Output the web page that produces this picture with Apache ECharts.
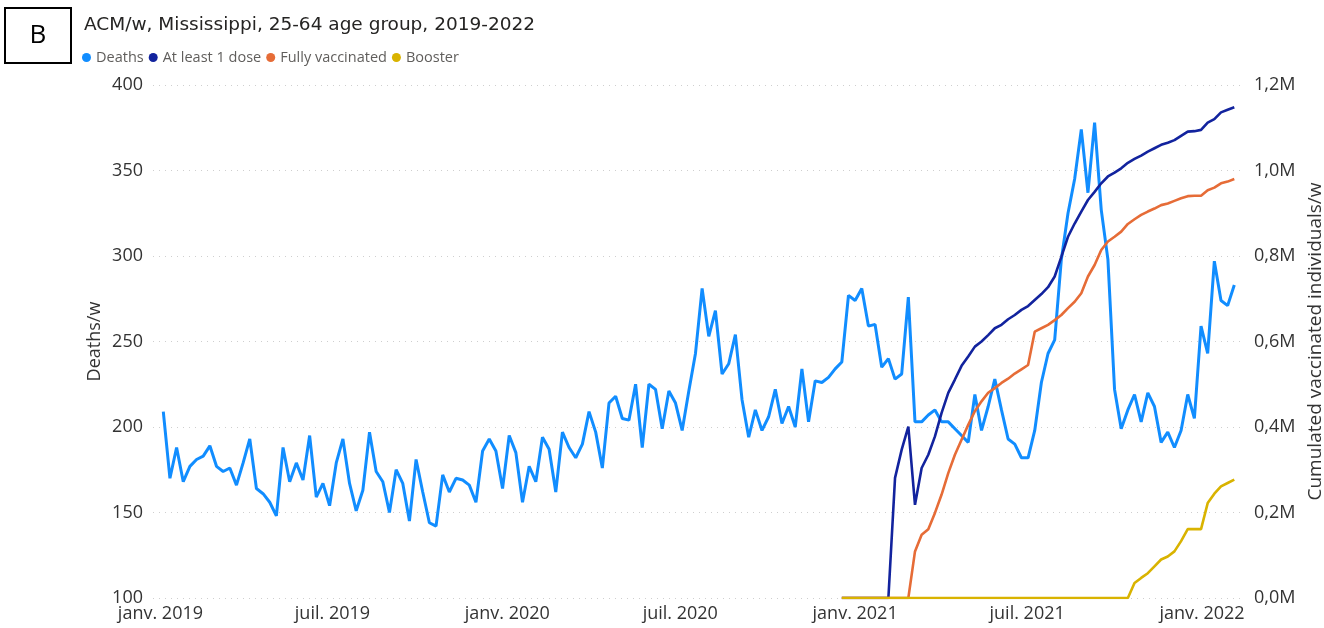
<!DOCTYPE html>
<html>
<head>
<meta charset="utf-8">
<script src="https://cdn.jsdelivr.net/npm/echarts@6/dist/echarts.min.js"></script>
<style>
html,body{margin:0;padding:0;background:#fff;}
#chart{width:1324px;height:628px;}
</style>
</head>
<body>
<div id="chart"></div>
<script>
// ---- data ----
const seriesNames = ['Deaths', 'At least 1 dose', 'Fully vaccinated', 'Booster'];
const firstWeek = '2019-01-04';           // date of the first weekly point
const deaths = [
  209,170,188,168,177,181,183,189,177,174,176,166,179,193,164,161,156,148,188,168,
  179,169,195,159,167,154,179,193,167,151,163,197,174,168,150,175,167,145,181,162,
  144,142,172,162,170,169,166,156,186,193,186,164,195,185,156,177,168,194,187,162,
  197,188,182,190,209,197,176,214,218,205,204,225,188,225,222,199,221,214,198,221,
  243,281,253,268,231,237,254,216,194,210,198,206,222,202,212,200,234,203,227,226,
  229,234,238,277,274,281,259,260,235,240,228,231,276,203,203,207,210,203,203,199,
  195,191,219,198,212,228,210,193,190,182,182,198,226,243,251,298,325,345,374,337,
  378,327,298,222,199,210,219,203,220,212,191,197,188,198,219,205,259,243,297,274,
  271,283
];
const vaccFirstIndex = 102;               // week index where vaccination series begin
const dose1 = [
  0,0,0,0,0,0,0,0,
  281000,347000,401000,218000,304000,335000,378000,433000,480000,511000,
  543000,565000,588000,600000,615000,631000,639000,652000,662000,674000,
  683000,697000,711000,727000,752000,798000,845000,876000,904000,931000,
  950000,970000,986000,995000,1005000,1018000,1027000,1035000,1044000,1052000,
  1060000,1065000,1071000,1081000,1091000,1092000,1095000,1112000,1120000,1136000,
  1142000,1148000
];
const fullyVacc = [
  0,0,0,0,0,0,0,0,0,0,0,
  109000,148000,161000,199000,242000,292000,335000,370000,405000,437000,
  460000,480000,491000,503000,513000,525000,535000,545000,623000,631000,
  639000,650000,662000,678000,693000,713000,752000,779000,814000,834000,
  845000,857000,875000,886000,896000,904000,911000,919000,923000,929000,
  935000,940000,941000,941000,954000,960000,970000,974000,980000
];
const booster = [
  0,0,0,0,0,0,0,0,0,0,0,0,0,0,0,0,0,0,0,0,0,0,0,0,0,0,0,0,0,0,0,0,0,0,0,0,0,0,0,0,0,0,0,0,
  35000,47000,58000,74000,90000,97000,109000,133000,161000,161000,161000,222000,244000,261000,269000,277000
];
const tickDates  = ['2019-01-01','2019-07-01','2020-01-01','2020-07-01','2021-01-01','2021-07-01','2022-01-01'];
const tickLabels = ['janv. 2019','juil. 2019','janv. 2020','juil. 2020','janv. 2021','juil. 2021','janv. 2022'];
const axisMin = '2018-12-24T04:00';
const axisMax = '2022-02-14T05:00';

// ---- build ----
const DAY = 864e5;
const toTs = d => Date.parse((d.length > 10 ? d : d + 'T00:00') + ':00Z');
const t0 = toTs(firstWeek);
const weekTs = i => t0 + i * 7 * DAY;
const deathData = deaths.map((v, i) => [weekTs(i), v]);
const vacc = arr => arr.map((v, i) => [weekTs(vaccFirstIndex + i), v]);
const tickTs = tickDates.map(toTs);

const colors = ['#118DFF', '#12239E', '#E66C37', '#D9B300'];
const FONT = '"Open Sans", "Noto Sans", sans-serif';
const chart = echarts.init(document.getElementById('chart'), null, {renderer: 'canvas'});
chart.setOption({
  animation: false,
  color: colors,
  textStyle: {fontFamily: FONT},
  title: {
    text: 'ACM/w, Mississippi, 25-64 age group, 2019-2022',
    left: 79, top: 11,
    textStyle: {fontFamily: '"DejaVu Sans", sans-serif', fontSize: 18.5, fontWeight: 'normal', color: '#252423'}
  },
  legend: {
    data: seriesNames,
    left: 82, top: 50, padding: 0,
    icon: 'circle', itemWidth: 9, itemHeight: 9, itemGap: 5,
    textStyle: {fontFamily: FONT, fontSize: 14.5, color: '#605E5C'}
  },
  graphic: [
    {type: 'rect', shape: {x: 5, y: 8, width: 66, height: 55}, style: {fill: '#fff', stroke: '#000', lineWidth: 2}},
    {type: 'text', x: 38, y: 36, style: {text: 'B', fontFamily: FONT, fontSize: 26, fill: '#000', align: 'center', verticalAlign: 'middle'}}
  ],
  grid: {left: 153, right: 80, top: 85, bottom: 30, outerBoundsMode: 'none', containLabel: false},
  xAxis: {
    type: 'value',
    min: toTs(axisMin),
    max: toTs(axisMax),
    axisLine: {show: false},
    axisTick: {show: false},
    splitLine: {show: false},
    axisLabel: {
      customValues: tickTs,
      formatter: v => tickLabels[tickTs.indexOf(v)] || '',
      fontFamily: FONT, fontSize: 18, color: '#333', margin: 7, hideOverlap: false
    }
  },
  yAxis: [
    {
      type: 'value', min: 100, max: 400, interval: 50, position: 'left',
      name: 'Deaths/w', nameLocation: 'middle', nameGap: 49, nameRotate: 90, nameMoveOverlap: false,
      nameTextStyle: {fontFamily: FONT, fontSize: 18, color: '#333'},
      axisLine: {show: false}, axisTick: {show: false},
      axisLabel: {fontFamily: FONT, fontSize: 18, color: '#333', margin: 10},
      splitLine: {show: true, lineStyle: {type: [1, 5], color: '#cfcfcf', width: 1}}
    },
    {
      type: 'value', min: 0, max: 1200000, interval: 200000, position: 'right',
      name: 'Cumulated vaccinated individuals/w', nameLocation: 'middle', nameGap: 62, nameRotate: 90, nameMoveOverlap: false,
      nameTextStyle: {fontFamily: FONT, fontSize: 19, color: '#333'},
      axisLine: {show: false}, axisTick: {show: false},
      axisLabel: {
        fontFamily: FONT, fontSize: 18, color: '#333', margin: 10,
        formatter: v => (v / 1e6).toFixed(1).replace('.', ',') + 'M'
      },
      splitLine: {show: false}
    }
  ],
  series: [
    {name: seriesNames[0], type: 'line', yAxisIndex: 0, data: deathData, showSymbol: false, lineStyle: {width: 3}},
    {name: seriesNames[1], type: 'line', yAxisIndex: 1, data: vacc(dose1), showSymbol: false, lineStyle: {width: 2.6}},
    {name: seriesNames[2], type: 'line', yAxisIndex: 1, data: vacc(fullyVacc), showSymbol: false, lineStyle: {width: 2.6}},
    {name: seriesNames[3], type: 'line', yAxisIndex: 1, data: vacc(booster), showSymbol: false, lineStyle: {width: 2.6}}
  ]
});
</script>
</body>
</html>
